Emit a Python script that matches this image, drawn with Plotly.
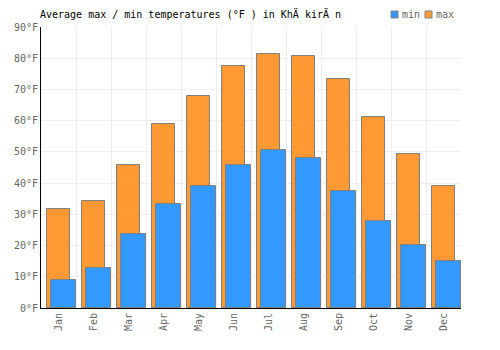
import plotly.graph_objects as go

months = ["Jan", "Feb", "Mar", "Apr", "May", "Jun", "Jul", "Aug", "Sep", "Oct", "Nov", "Dec"]
max_f = [31.7, 34.3, 45.8, 59.0, 67.9, 77.6, 81.4, 80.8, 73.4, 61.2, 49.4, 39.1]
min_f = [9.0, 12.8, 23.7, 33.3, 39.1, 45.8, 50.6, 48.1, 37.5, 27.9, 20.2, 15.1]
yticks = [0, 10, 20, 30, 40, 50, 60, 70, 80, 90]
title = "Average max / min temperatures (°F ) in KhÄ kirÄ n"
series_names = ["min", "max"]
series_colors = ["#3399ff", "#ff9933"]

font = "DejaVu Sans Mono"
W, H = 500, 350
L, R, T, B = 41, 39, 27, 42
pw, ph = W - L - R, H - T - B

def px(x):
    return (x - L) / pw

def py(y):
    return (H - B - y) / ph

fig = go.Figure()
fig.add_trace(go.Bar(x=months, y=max_f, name="max", marker=dict(color=series_colors[1], line=dict(color="#808080", width=1)),
                     width=0.66, offset=-0.337))
fig.add_trace(go.Bar(x=months, y=min_f, name="min", marker=dict(color=series_colors[0], line=dict(color="#808080", width=1)),
                     width=0.70, offset=-0.206))

# manual legend
lx = [391, 425]
for i, name in enumerate(series_names):
    fig.add_shape(type="rect", xref="paper", yref="paper",
                  x0=px(lx[i]), x1=px(lx[i] + 7), y0=py(18), y1=py(11),
                  fillcolor=series_colors[i], line=dict(color="#808080", width=1))
    fig.add_annotation(xref="paper", yref="paper", x=px(lx[i] + 9), y=py(14.5), text=name, showarrow=False,
                       xanchor="left", yanchor="middle", font=dict(family=font, size=10, color="#666666"))

fig.update_layout(
    width=W, height=H, barmode="overlay",
    margin=dict(l=L, r=R, t=T, b=B, autoexpand=False),
    paper_bgcolor="white", plot_bgcolor="white",
    font=dict(family=font, size=10, color="#666666"),
    title=dict(text=title, x=40 / W, xanchor="left", y=1 - 14 / H, yanchor="middle",
               font=dict(family=font, size=10, color="#000000")),
    showlegend=False,
    bargap=0,
)
fig.update_xaxes(type="category", tickson="boundaries", tickangle=-90, showgrid=True, gridcolor="#eeeeee",
                 showline=True, linecolor="#000000", linewidth=1, ticks="", range=[-0.5, 11.5],
                 tickfont=dict(family=font, size=10, color="#666666"))
fig.update_yaxes(range=[0, 90], tickvals=yticks, ticktext=[f"{v}°F" for v in yticks], showgrid=True,
                 gridcolor="#eeeeee", showline=True, linecolor="#000000", linewidth=1, ticks="", zeroline=False,
                 tickfont=dict(family=font, size=10, color="#666666"))
fig.write_html("out.html")
